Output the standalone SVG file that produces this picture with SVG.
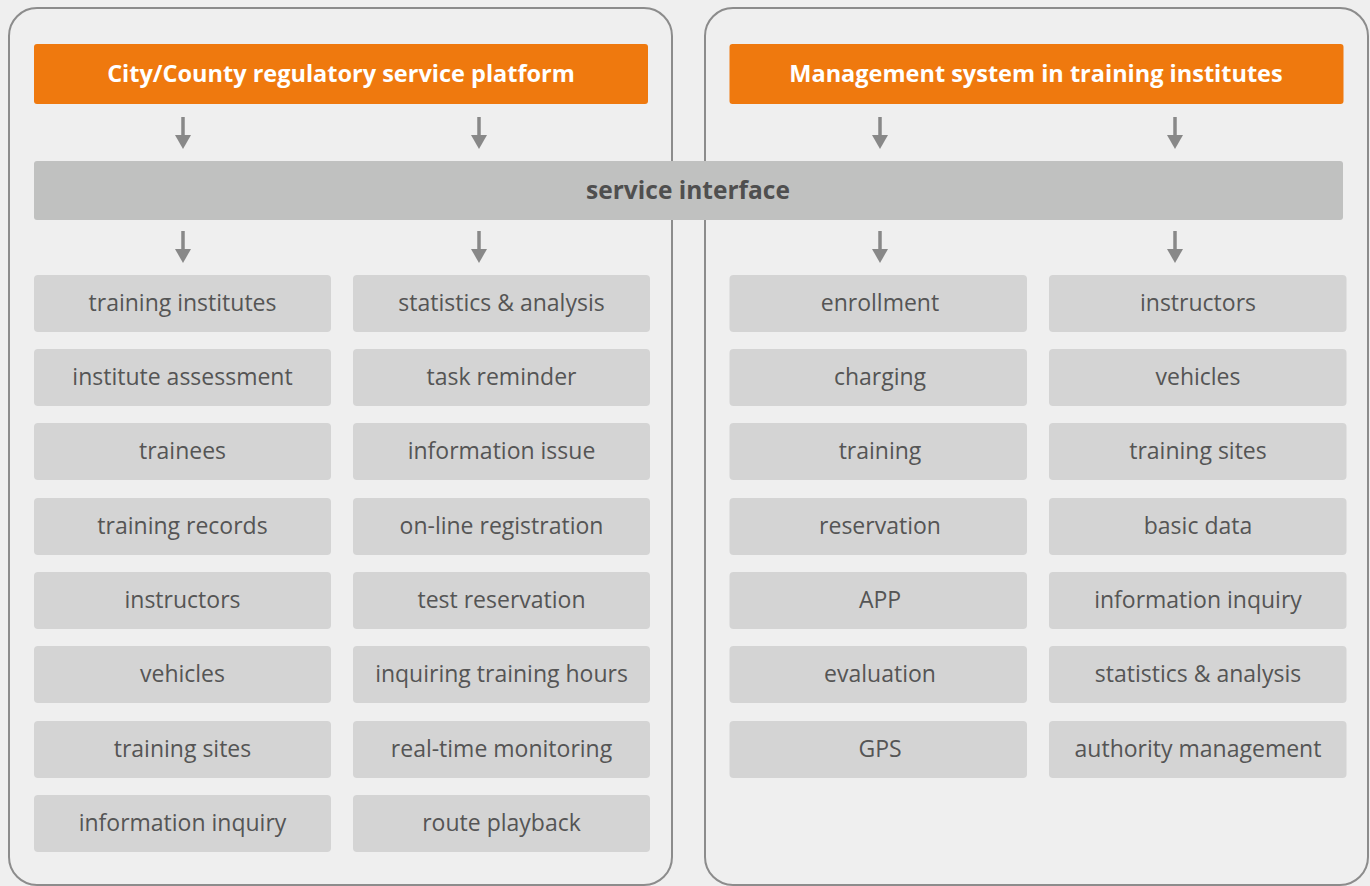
<svg xmlns="http://www.w3.org/2000/svg" width="1370" height="886" viewBox="0 0 1370 886">
<defs>
<style>
.panel{fill:#efefef;stroke:#8c8c8c;stroke-width:2}
.head{fill:#ef790e}
.headt{font-family:"Open Sans","Liberation Sans",sans-serif;font-weight:bold;font-size:23.5px;fill:#ffffff;text-anchor:middle;dominant-baseline:central}
.bar{fill:#c0c1c0}
.bart{font-family:"Open Sans","Liberation Sans",sans-serif;font-weight:bold;font-size:24.5px;fill:#4f4f4f;text-anchor:middle;dominant-baseline:central}
.item{fill:#d4d4d4}
.itemt{font-family:"Open Sans","Liberation Sans",sans-serif;font-size:23px;fill:#555555;text-anchor:middle;dominant-baseline:central}
.arr{stroke:#888888;stroke-width:3.5;fill:none}
.ah{fill:#888888}
</style>
</defs>
<rect width="1370" height="886" fill="#efefef"/>
<rect class="panel" x="9" y="8" width="663" height="877" rx="28"/>
<rect class="panel" x="705" y="8" width="663" height="877" rx="28"/>
<g id="head-left"><rect class="head" x="34" y="44" width="614" height="60" rx="3"/><text class="headt" x="341" y="73">City/County regulatory service platform</text></g>
<g id="head-right"><rect class="head" x="729.5" y="44" width="614" height="60" rx="3"/><text class="headt" x="1036" y="73">Management system in training institutes</text></g>
<g id="service-interface"><rect class="bar" x="34" y="161" width="1309" height="59" rx="3"/><text class="bart" x="688" y="189">service interface</text></g>
<g id="connectors">
<g id="a1"><line class="arr" x1="183" y1="117" x2="183" y2="137"/><polygon class="ah" points="175,135 191,135 183,149"/></g>
<g id="a2"><line class="arr" x1="479" y1="117" x2="479" y2="137"/><polygon class="ah" points="471,135 487,135 479,149"/></g>
<g id="a3"><line class="arr" x1="880" y1="117" x2="880" y2="137"/><polygon class="ah" points="872,135 888,135 880,149"/></g>
<g id="a4"><line class="arr" x1="1175" y1="117" x2="1175" y2="137"/><polygon class="ah" points="1167,135 1183,135 1175,149"/></g>
<g id="a5"><line class="arr" x1="183" y1="231" x2="183" y2="251"/><polygon class="ah" points="175,249 191,249 183,263"/></g>
<g id="a6"><line class="arr" x1="479" y1="231" x2="479" y2="251"/><polygon class="ah" points="471,249 487,249 479,263"/></g>
<g id="a7"><line class="arr" x1="880" y1="231" x2="880" y2="251"/><polygon class="ah" points="872,249 888,249 880,263"/></g>
<g id="a8"><line class="arr" x1="1175" y1="231" x2="1175" y2="251"/><polygon class="ah" points="1167,249 1183,249 1175,263"/></g>
</g>
<g id="l1-1"><rect class="item" x="34" y="275" width="297" height="57" rx="4"/><text class="itemt" x="182.5" y="302">training institutes</text></g>
<g id="l1-2"><rect class="item" x="34" y="349" width="297" height="57" rx="4"/><text class="itemt" x="182.5" y="376">institute assessment</text></g>
<g id="l1-3"><rect class="item" x="34" y="423" width="297" height="57" rx="4"/><text class="itemt" x="182.5" y="450">trainees</text></g>
<g id="l1-4"><rect class="item" x="34" y="498" width="297" height="57" rx="4"/><text class="itemt" x="182.5" y="525">training records</text></g>
<g id="l1-5"><rect class="item" x="34" y="572" width="297" height="57" rx="4"/><text class="itemt" x="182.5" y="599">instructors</text></g>
<g id="l1-6"><rect class="item" x="34" y="646" width="297" height="57" rx="4"/><text class="itemt" x="182.5" y="673">vehicles</text></g>
<g id="l1-7"><rect class="item" x="34" y="721" width="297" height="57" rx="4"/><text class="itemt" x="182.5" y="748">training sites</text></g>
<g id="l1-8"><rect class="item" x="34" y="795" width="297" height="57" rx="4"/><text class="itemt" x="182.5" y="822">information inquiry</text></g>
<g id="l2-1"><rect class="item" x="353" y="275" width="297" height="57" rx="4"/><text class="itemt" x="501.5" y="302">statistics &amp; analysis</text></g>
<g id="l2-2"><rect class="item" x="353" y="349" width="297" height="57" rx="4"/><text class="itemt" x="501.5" y="376">task reminder</text></g>
<g id="l2-3"><rect class="item" x="353" y="423" width="297" height="57" rx="4"/><text class="itemt" x="501.5" y="450">information issue</text></g>
<g id="l2-4"><rect class="item" x="353" y="498" width="297" height="57" rx="4"/><text class="itemt" x="501.5" y="525">on-line registration</text></g>
<g id="l2-5"><rect class="item" x="353" y="572" width="297" height="57" rx="4"/><text class="itemt" x="501.5" y="599">test reservation</text></g>
<g id="l2-6"><rect class="item" x="353" y="646" width="297" height="57" rx="4"/><text class="itemt" x="501.5" y="673">inquiring training hours</text></g>
<g id="l2-7"><rect class="item" x="353" y="721" width="297" height="57" rx="4"/><text class="itemt" x="501.5" y="748">real-time monitoring</text></g>
<g id="l2-8"><rect class="item" x="353" y="795" width="297" height="57" rx="4"/><text class="itemt" x="501.5" y="822">route playback</text></g>
<g id="r1-1"><rect class="item" x="729.5" y="275" width="297.5" height="57" rx="4"/><text class="itemt" x="880" y="302">enrollment</text></g>
<g id="r1-2"><rect class="item" x="729.5" y="349" width="297.5" height="57" rx="4"/><text class="itemt" x="880" y="376">charging</text></g>
<g id="r1-3"><rect class="item" x="729.5" y="423" width="297.5" height="57" rx="4"/><text class="itemt" x="880" y="450">training</text></g>
<g id="r1-4"><rect class="item" x="729.5" y="498" width="297.5" height="57" rx="4"/><text class="itemt" x="880" y="525">reservation</text></g>
<g id="r1-5"><rect class="item" x="729.5" y="572" width="297.5" height="57" rx="4"/><text class="itemt" x="880" y="599">APP</text></g>
<g id="r1-6"><rect class="item" x="729.5" y="646" width="297.5" height="57" rx="4"/><text class="itemt" x="880" y="673">evaluation</text></g>
<g id="r1-7"><rect class="item" x="729.5" y="721" width="297.5" height="57" rx="4"/><text class="itemt" x="880" y="748">GPS</text></g>
<g id="r2-1"><rect class="item" x="1049" y="275" width="297.5" height="57" rx="4"/><text class="itemt" x="1198" y="302">instructors</text></g>
<g id="r2-2"><rect class="item" x="1049" y="349" width="297.5" height="57" rx="4"/><text class="itemt" x="1198" y="376">vehicles</text></g>
<g id="r2-3"><rect class="item" x="1049" y="423" width="297.5" height="57" rx="4"/><text class="itemt" x="1198" y="450">training sites</text></g>
<g id="r2-4"><rect class="item" x="1049" y="498" width="297.5" height="57" rx="4"/><text class="itemt" x="1198" y="525">basic data</text></g>
<g id="r2-5"><rect class="item" x="1049" y="572" width="297.5" height="57" rx="4"/><text class="itemt" x="1198" y="599">information inquiry</text></g>
<g id="r2-6"><rect class="item" x="1049" y="646" width="297.5" height="57" rx="4"/><text class="itemt" x="1198" y="673">statistics &amp; analysis</text></g>
<g id="r2-7"><rect class="item" x="1049" y="721" width="297.5" height="57" rx="4"/><text class="itemt" x="1198" y="748">authority management</text></g>
</svg>
